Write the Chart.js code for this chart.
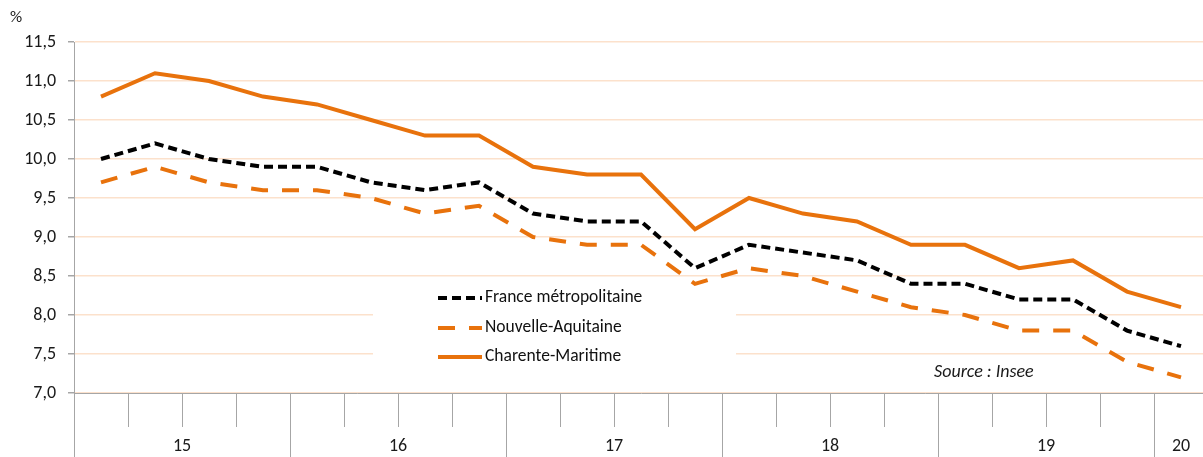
<!DOCTYPE html>
<html>
<head>
<meta charset="utf-8">
<script src="https://cdn.jsdelivr.net/npm/chart.js@4"></script>
<style>
  html, body { margin: 0; padding: 0; background: #fff; overflow: hidden; }
  #wrap { width: 1208px; height: 457px; position: relative; }
</style>
</head>
<body>
<div id="wrap"><canvas id="chart"></canvas></div>
<script>
// données (taux de chômage trimestriels, %)
const quarters = ['T1 15','T2 15','T3 15','T4 15','T1 16','T2 16','T3 16','T4 16',
                  'T1 17','T2 17','T3 17','T4 17','T1 18','T2 18','T3 18','T4 18',
                  'T1 19','T2 19','T3 19','T4 19','T1 20'];
const years = ['15','16','17','18','19','20'];
const quartersPerYear = [4, 4, 4, 4, 4, 1];
const france = [10.0, 10.2, 10.0, 9.9, 9.9, 9.7, 9.6, 9.7, 9.3, 9.2, 9.2, 8.6, 8.9, 8.8, 8.7, 8.4, 8.4, 8.2, 8.2, 7.8, 7.6];
const nouvelleAquitaine = [9.7, 9.9, 9.7, 9.6, 9.6, 9.5, 9.3, 9.4, 9.0, 8.9, 8.9, 8.4, 8.6, 8.5, 8.3, 8.1, 8.0, 7.8, 7.8, 7.4, 7.2];
const charente = [10.8, 11.1, 11.0, 10.8, 10.7, 10.5, 10.3, 10.3, 9.9, 9.8, 9.8, 9.1, 9.5, 9.3, 9.2, 8.9, 8.9, 8.6, 8.7, 8.3, 8.1];

const ORANGE = '#E8720C';
const GRID = '#FCE1CC';
const AXIS = '#A6A6A6';
const FONT = 'Carlito, Lato, sans-serif';

// cadre blanc de la légende + textes annexes
const decor = {
  id: 'decor',
  beforeDatasetsDraw(chart) {
    const ctx = chart.ctx;
    ctx.save();
    ctx.fillStyle = '#fff';
    ctx.fillRect(373, 281, 363, 78);
    ctx.restore();
  },
  afterDraw(chart) {
    const ctx = chart.ctx;
    const x = chart.scales.x;
    const area = chart.chartArea;
    const step = x.getPixelForValue(1) - x.getPixelForValue(0);
    ctx.save();
    // séparateurs d'années + libellés
    ctx.strokeStyle = AXIS;
    ctx.lineWidth = 1;
    ctx.fillStyle = '#1a1a1a';
    ctx.font = '18px ' + FONT;
    ctx.textAlign = 'center';
    ctx.textBaseline = 'middle';
    let idx = 0;
    years.forEach((y, i) => {
      const left = x.getPixelForValue(idx) - step / 2;
      ctx.beginPath();
      ctx.moveTo(Math.round(left) + 0.5, area.bottom);
      ctx.lineTo(Math.round(left) + 0.5, chart.height);
      ctx.stroke();
      const n = quartersPerYear[i];
      const mid = (x.getPixelForValue(idx) + x.getPixelForValue(idx + n - 1)) / 2;
      ctx.fillText(y, mid, 446);
      idx += n;
    });
    // unité
    ctx.textAlign = 'left';
    ctx.font = '17px ' + FONT;
    ctx.fillText('%', 10, 18);
    // source
    ctx.font = 'italic 18px ' + FONT;
    ctx.fillText('Source : Insee', 934, 372);
    // légende
    ctx.font = '17.5px ' + FONT;
    const rows = [298, 328, 357];
    chart.data.datasets.forEach((ds, i) => {
      const yy = rows[i];
      ctx.beginPath();
      ctx.strokeStyle = ds.borderColor;
      ctx.lineWidth = ds.borderWidth;
      ctx.setLineDash(ds.borderDash || []);
      ctx.lineCap = 'butt';
      ctx.moveTo(438, yy);
      ctx.lineTo(482, yy);
      ctx.stroke();
      ctx.setLineDash([]);
      ctx.fillStyle = '#111';
      ctx.fillText(ds.label, 485, yy);
    });
    ctx.restore();
  }
};

new Chart(document.getElementById('chart'), {
  type: 'line',
  data: {
    labels: quarters,
    datasets: [
      { label: 'France métropolitaine', data: france, borderColor: '#000', borderWidth: 4,
        borderDash: [9, 5], pointRadius: 0, tension: 0, fill: false },
      { label: 'Nouvelle-Aquitaine', data: nouvelleAquitaine, borderColor: ORANGE, borderWidth: 4,
        borderDash: [17, 14], pointRadius: 0, tension: 0, fill: false },
      { label: 'Charente-Maritime', data: charente, borderColor: ORANGE, borderWidth: 4,
        pointRadius: 0, tension: 0, fill: false }
    ]
  },
  options: {
    responsive: true,
    maintainAspectRatio: false,
    animation: false,
    layout: { padding: { top: 42, right: 0, left: 0, bottom: 0 } },
    plugins: { legend: { display: false }, tooltip: { enabled: false } },
    scales: {
      x: {
        offset: true,
        grid: { offset: true, drawOnChartArea: false, drawTicks: true, tickLength: 34, tickColor: AXIS },
        border: { color: AXIS },
        ticks: { display: false },
        afterFit(s) { s.height = 64; }
      },
      y: {
        min: 7, max: 11.5,
        grid: { color: GRID, lineWidth: 1.5, tickLength: 6, tickColor: AXIS },
        border: { color: AXIS },
        ticks: {
          stepSize: 0.5,
          color: '#1a1a1a',
          font: { family: FONT, size: 18 },
          padding: 12,
          callback: v => v.toFixed(1).replace('.', ',')
        },
        afterFit(s) { s.width = 74; }
      }
    }
  },
  plugins: [decor]
});
</script>
</body>
</html>
